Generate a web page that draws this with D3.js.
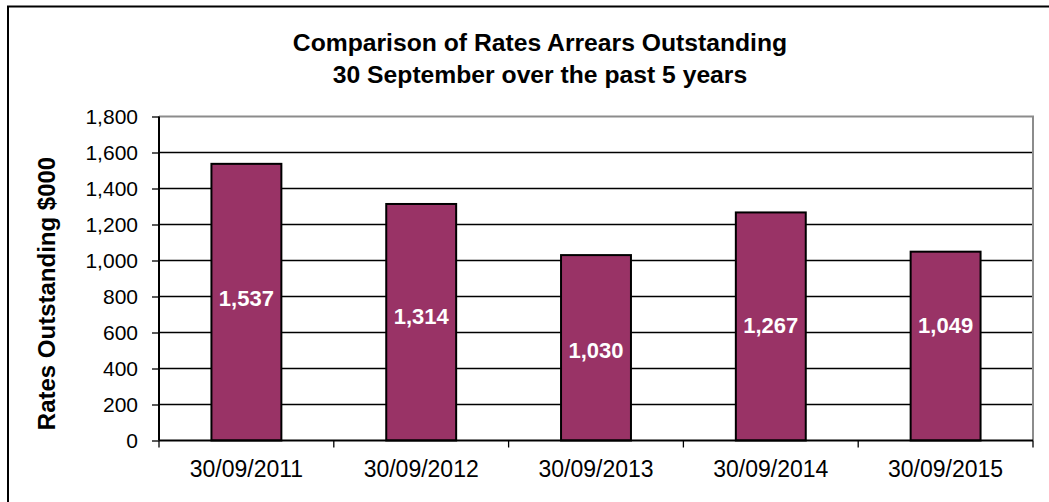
<!DOCTYPE html>
<html>
<head>
<meta charset="utf-8">
<script src="https://cdn.jsdelivr.net/npm/d3@7"></script>
<style>
  html, body { margin: 0; padding: 0; background: #fff; }
  svg { display: block; font-family: "Liberation Sans", Arial, sans-serif; }
</style>
</head>
<body>
<svg id="chart" width="1049" height="502"></svg>
<script>
// Rates arrears outstanding at 30 September each year ($000)
const categories = ["30/09/2011", "30/09/2012", "30/09/2013", "30/09/2014", "30/09/2015"];
const values = [1537, 1314, 1030, 1267, 1049];
const yTicks = [0, 200, 400, 600, 800, 1000, 1200, 1400, 1600, 1800];
const titleLines = ["Comparison of Rates Arrears Outstanding", "30 September over the past 5 years"];
const yTitle = "Rates Outstanding $000";

// vertical nudge (px) of each value label from its bar's middle
const labelNudge = [-4, -6, 2, -1, -21];

const svg = d3.select("#chart");
const plot = { left: 159, right: 1033, top: 116.5, bottom: 440.5 };

const x = d3.scaleBand()
  .domain(categories)
  .range([plot.left, plot.right])
  .paddingInner(0.6)
  .paddingOuter(0.3);

const y = d3.scaleLinear()
  .domain([0, 1800])
  .range([plot.bottom, plot.top]);

const fmt = d3.format(",");

// chart frame
svg.append("rect")
  .attr("x", 8).attr("y", 6.5)
  .attr("width", 1100).attr("height", 600)
  .attr("fill", "none").attr("stroke", "#000").attr("stroke-width", 2);

// title
svg.append("text")
  .attr("text-anchor", "middle")
  .attr("font-weight", "bold")
  .attr("font-size", 24.7)
  .attr("fill", "#000")
  .selectAll("tspan")
  .data(titleLines)
  .join("tspan")
  .attr("x", 540)
  .attr("y", (d, i) => 51 + i * 32)
  .text(d => d);

// horizontal gridlines
svg.append("g")
  .selectAll("line")
  .data(yTicks.filter(t => t > 0 && t < 1800))
  .join("line")
  .attr("x1", plot.left).attr("x2", plot.right)
  .attr("y1", d => y(d)).attr("y2", d => y(d))
  .attr("stroke", "#000").attr("stroke-width", 1.3);

// plot area border (top and right)
svg.append("path")
  .attr("d", `M${plot.left},${y(1800)}H${plot.right}V${plot.bottom}`)
  .attr("fill", "none").attr("stroke", "#8c8c8c").attr("stroke-width", 2);

// bars
svg.append("g")
  .selectAll("rect")
  .data(values)
  .join("rect")
  .attr("x", (d, i) => x(categories[i]))
  .attr("y", d => y(d))
  .attr("width", x.bandwidth())
  .attr("height", d => y(0) - y(d))
  .attr("fill", "#993366")
  .attr("stroke", "#000").attr("stroke-width", 2);

// value labels inside bars
svg.append("g")
  .selectAll("text")
  .data(values)
  .join("text")
  .attr("x", (d, i) => x(categories[i]) + x.bandwidth() / 2)
  .attr("y", (d, i) => (y(d) + y(0)) / 2 + labelNudge[i])
  .attr("dy", "0.36em")
  .attr("text-anchor", "middle")
  .attr("font-weight", "bold")
  .attr("font-size", 22)
  .attr("fill", "#fff")
  .text(d => fmt(d));

// y axis
const yAxis = svg.append("g")
  .attr("transform", `translate(${plot.left},0)`)
  .call(d3.axisLeft(y).tickValues(yTicks).tickFormat(fmt).tickSize(7).tickPadding(14));
yAxis.select(".domain").attr("stroke", "#000").attr("stroke-width", 2)
  .attr("d", `M0,${plot.bottom}V${y(1800)}`);
yAxis.selectAll(".tick line").attr("stroke", "#000").attr("stroke-width", 1.3);
yAxis.selectAll(".tick text")
  .attr("font-family", "Liberation Sans, Arial, sans-serif")
  .attr("font-size", 21).attr("fill", "#000");

// x axis with ticks on category boundaries
const xAxisG = svg.append("g")
  .attr("transform", `translate(0,${plot.bottom})`);
xAxisG.append("line")
  .attr("x1", plot.left).attr("x2", plot.right)
  .attr("stroke", "#000").attr("stroke-width", 2);
xAxisG.selectAll("line.bound")
  .data(d3.range(categories.length + 1))
  .join("line")
  .attr("class", "bound")
  .attr("x1", i => plot.left + i * x.step())
  .attr("x2", i => plot.left + i * x.step())
  .attr("y1", 0).attr("y2", 7)
  .attr("stroke", "#000").attr("stroke-width", 1.3);
xAxisG.selectAll("text")
  .data(categories)
  .join("text")
  .attr("x", d => x(d) + x.bandwidth() / 2)
  .attr("y", 36.5)
  .attr("text-anchor", "middle")
  .attr("font-size", 23)
  .attr("fill", "#000")
  .text(d => d);

// y axis title
svg.append("text")
  .attr("transform", `translate(55,${(plot.top + plot.bottom) / 2 + 15}) rotate(-90)`)
  .attr("text-anchor", "middle")
  .attr("font-weight", "bold")
  .attr("font-size", 24)
  .attr("fill", "#000")
  .text(yTitle);
</script>
</body>
</html>
